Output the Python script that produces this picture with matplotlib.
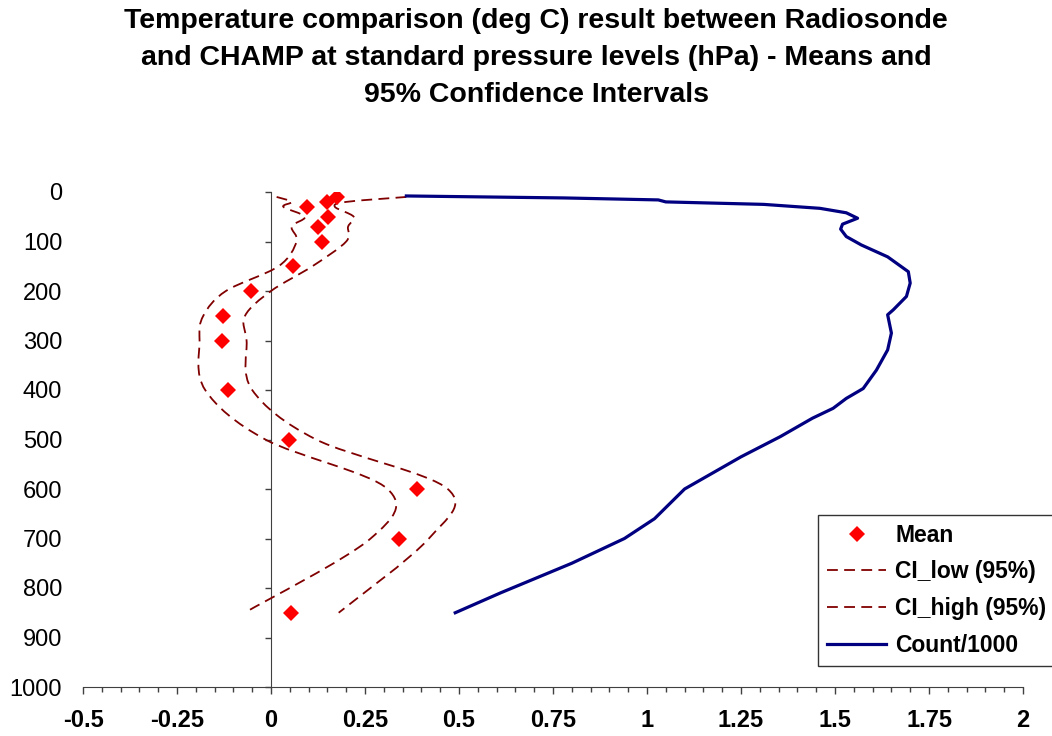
import matplotlib
matplotlib.use("Agg")
import matplotlib.pyplot as plt
import numpy as np
from matplotlib.path import Path
from matplotlib.patches import PathPatch
from matplotlib.lines import Line2D

plt.rcParams["font.family"] = ["Liberation Sans", "DejaVu Sans"]

# standard pressure levels (hPa) and temperature differences (deg C)
levels = [10, 20, 30, 50, 70, 100, 150, 200, 250, 300, 400, 500, 600, 700, 850]
mean = [0.176, 0.148, 0.097, 0.152, 0.124, 0.135, 0.059, -0.054, -0.127,
        -0.131, -0.115, 0.049, 0.389, 0.341, 0.052]
ci_low = [0.015, 0.055, 0.033, 0.09, 0.055, 0.068, 0.02, -0.12, -0.18,
          -0.19, -0.175, -0.015, 0.31, 0.265, -0.07]
ci_high = [0.36, 0.20, 0.17, 0.22, 0.205, 0.20, 0.11, 0.0, -0.069,
           -0.065, -0.05, 0.12, 0.47, 0.42, 0.18]

# sample count / 1000 by pressure
count_p = [8, 12, 16, 20, 25, 33, 42, 53, 65, 75, 90, 107, 131, 161, 184,
           211, 238, 248, 285, 319, 360, 397, 417, 437, 457, 494, 535, 600,
           660, 700, 750, 810, 850]
count_k = [0.36, 0.78, 1.03, 1.05, 1.31, 1.46, 1.53, 1.56, 1.52, 1.515, 1.53,
           1.57, 1.64, 1.695, 1.70, 1.69, 1.655, 1.64, 1.65, 1.64, 1.61,
           1.575, 1.53, 1.495, 1.44, 1.355, 1.25, 1.10, 1.02, 0.94, 0.80,
           0.61, 0.49]

DARKRED = "#800000"
NAVY = "#000080"
DASH = (0, (6, 3.5))


def smooth_path(xs, ys):
    # Excel-style smoothed line: cubic Bezier through every point
    pts = np.column_stack([xs, ys]).astype(float)
    ext = np.vstack([pts[0], pts, pts[-1]])
    verts = [pts[0]]
    codes = [Path.MOVETO]
    for i in range(len(pts) - 1):
        p0, p1, p2, p3 = ext[i], ext[i + 1], ext[i + 2], ext[i + 3]
        verts += [p1 + (p2 - p0) / 6, p2 - (p3 - p1) / 6, p2]
        codes += [Path.CURVE4] * 3
    return Path(verts, codes)


fig = plt.figure(figsize=(10.52, 7.36), dpi=100)
ax = fig.add_axes([83 / 1052, 1 - 687 / 736, 940 / 1052, 495 / 736])

for ci in (ci_low, ci_high):
    ax.add_patch(PathPatch(smooth_path(ci, levels), fill=False, ec=DARKRED,
                           lw=1.3, ls=DASH))
ax.plot(count_k, count_p, color=NAVY, lw=2.3)
ax.plot(mean, levels, ls="none", marker="D", ms=8.5, mfc="red", mec="red",
        mew=0, zorder=5)

ax.set_xlim(-0.5, 2)
ax.set_ylim(1000, 0)
ax.set_xticks(np.arange(-0.5, 2.01, 0.25))
ax.set_xticks(np.arange(-0.5, 2.01, 0.05), minor=True)
ax.set_xticklabels(["-0.5", "-0.25", "0", "0.25", "0.5", "0.75", "1",
                    "1.25", "1.5", "1.75", "2"], fontweight="bold")
ax.tick_params(axis="x", which="major", length=5, width=1, color="#404040",
               labelsize=17, pad=11)
ax.tick_params(axis="x", which="minor", length=3.5, width=1, color="#404040")

ax.set_yticks(np.arange(0, 1001, 100))
ax.tick_params(axis="y", length=0, labelsize=17, pad=15)
for s in ("top", "right", "left"):
    ax.spines[s].set_visible(False)
ax.spines["bottom"].set_color("#404040")

# value axis crosses at x = 0
sec = ax.secondary_yaxis(0, transform=ax.transData)
sec.set_yticks(np.arange(0, 1001, 100))
sec.set_yticklabels([])
sec.tick_params(length=4, width=1, color="#404040")
sec.spines["left"].set_color("#404040")

fig.text(536 / 1052, 1 - 58 / 736,
         "Temperature comparison (deg C) result between Radiosonde\n"
         "and CHAMP at standard pressure levels (hPa) - Means and\n"
         "95% Confidence Intervals",
         ha="center", va="center", fontsize=20.5, fontweight="bold",
         linespacing=1.55)

handles = [
    Line2D([], [], ls="none", marker="D", ms=8.5, mfc="red", mec="red", mew=0),
    Line2D([], [], color=DARKRED, lw=1.3, ls=DASH),
    Line2D([], [], color=DARKRED, lw=1.3, ls=DASH),
    Line2D([], [], color=NAVY, lw=2.3),
]
labels = ["Mean", "CI_low (95%)", "CI_high (95%)", "Count/1000"]
leg = fig.legend(handles, labels, loc="upper left",
                 bbox_to_anchor=(818 / 1052, 1 - 515 / 736),
                 prop={"weight": "bold", "size": 16.5}, frameon=True,
                 fancybox=False, edgecolor="black", borderpad=0.38,
                 labelspacing=0.6, handlelength=2.6, handletextpad=0.4,
                 borderaxespad=0)
leg.get_frame().set_linewidth(1.0)

fig.savefig("out.png", dpi=100)
